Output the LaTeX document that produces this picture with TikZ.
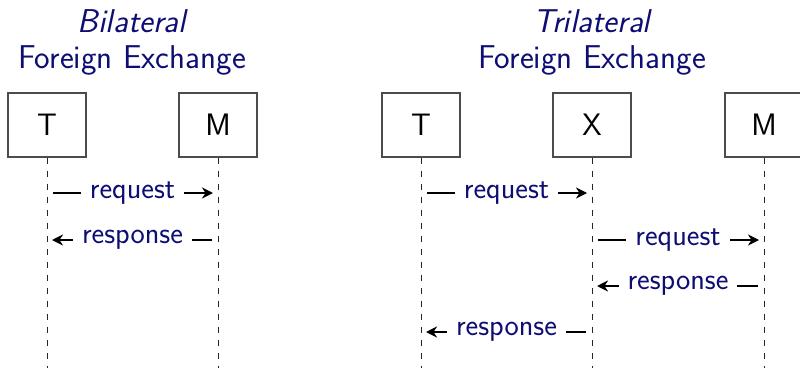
\documentclass[tikz,border=0pt]{standalone}
\usetikzlibrary{arrows.meta}
\definecolor{titleblue}{rgb}{0.05,0.05,0.45}
\definecolor{boxgray}{gray}{0.3}
\begin{document}
\begin{tikzpicture}[x=1pt,y=1pt,
  every node/.style={font=\sffamily\fontsize{30.2}{36}\selectfont},
  heading/.style={font=\sffamily\fontsize{33}{40}\selectfont, text=titleblue, anchor=base, inner sep=0pt},
  party/.style={draw=boxgray, line width=1.1pt, minimum width=78pt, minimum height=64pt, inner sep=0pt, text=black,
    font=\sffamily\fontsize{31}{37}\selectfont},
  lifeline/.style={draw=black!85, line width=1pt, dash pattern=on 6.5pt off 6.5pt},
  msg/.style={draw=black, line width=2.1pt, -{Stealth[length=11pt,width=11pt,inset=3.5pt]}, shorten <=6pt, shorten >=5pt},
  tag/.style={fill=white, text=titleblue, inner xsep=9pt, inner ysep=2pt}
]
\useasboundingbox (0,0) rectangle (800,368);

% ---------- bilateral exchange ----------
\node[heading] (biA) at (132,336) {\itshape Bilateral};
\node[heading] (biB) at (132,300) {Foreign Exchange};
\node[party] (bT) at (47,243) {T};
\node[party] (bM) at (218,243) {M};
\coordinate (bTend) at (47,0);
\coordinate (bMend) at (218,0);
\draw[lifeline] (bT.south) -- (bTend);
\draw[lifeline] (bM.south) -- (bMend);

\coordinate (bT1) at (47,175);  \coordinate (bM1) at (218,175);
\coordinate (bT2) at (47,128);  \coordinate (bM2) at (218,128);
\draw[msg] (bT1) -- node[tag] {request} (bM1);
\draw[msg] (bM2) -- node[tag] {response} (bT2);

% ---------- trilateral exchange ----------
\node[heading] (triA) at (592,336) {\itshape Trilateral};
\node[heading] (triB) at (592,300) {Foreign Exchange};
\node[party] (tT) at (421,243) {T};
\node[party] (tX) at (592,243) {X};
\node[party] (tM) at (764,243) {M};
\coordinate (tTend) at (421,0);
\coordinate (tXend) at (592,0);
\coordinate (tMend) at (764,0);
\draw[lifeline] (tT.south) -- (tTend);
\draw[lifeline] (tX.south) -- (tXend);
\draw[lifeline] (tM.south) -- (tMend);

\coordinate (tT1) at (421,175); \coordinate (tX1) at (592,175);
\coordinate (tX2) at (592,128); \coordinate (tM2) at (764,128);
\coordinate (tX3) at (592,82);  \coordinate (tM3) at (764,82);
\coordinate (tT4) at (421,36);  \coordinate (tX4) at (592,36);
\draw[msg] (tT1) -- node[tag] {request} (tX1);
\draw[msg] (tX2) -- node[tag] {request} (tM2);
\draw[msg] (tM3) -- node[tag] {response} (tX3);
\draw[msg] (tX4) -- node[tag] {response} (tT4);
\end{tikzpicture}
\end{document}
